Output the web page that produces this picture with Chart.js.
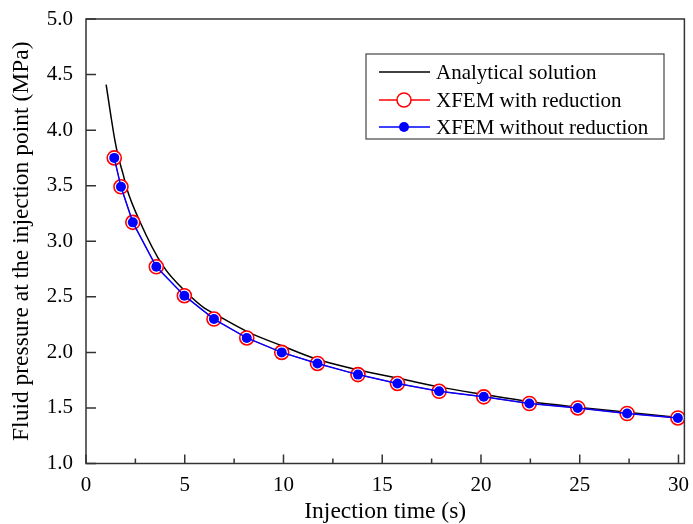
<!DOCTYPE html>
<html>
<head>
<meta charset="utf-8">
<script src="https://cdn.jsdelivr.net/npm/chart.js@4.4.1/dist/chart.umd.min.js"></script>
<style>
  html, body { margin: 0; padding: 0; background: #ffffff; }
  #wrap { position: relative; width: 693px; height: 524px; }
</style>
</head>
<body>
<div id="wrap"><canvas id="c" width="693" height="524"></canvas></div>
<script>
// ---- data ----
const xfemTime = [1.43, 1.77, 2.37, 3.56, 4.98, 6.48, 8.14, 9.91, 11.72, 13.77, 15.77, 17.88, 20.14, 22.45, 24.9, 27.4, 29.97];
const xfemWithReduction = [3.75, 3.49, 3.17, 2.77, 2.51, 2.30, 2.13, 2.00, 1.90, 1.80, 1.72, 1.65, 1.60, 1.54, 1.50, 1.45, 1.41];
const xfemWithoutReduction = [3.75, 3.49, 3.17, 2.77, 2.51, 2.30, 2.13, 2.00, 1.90, 1.80, 1.72, 1.65, 1.60, 1.54, 1.50, 1.45, 1.41];
const analyticalTime = [1.02, 1.25, 1.47, 1.635, 1.885, 2.056, 2.72, 3.89, 5.20, 5.98, 6.48, 8.24, 9.91, 11.66, 13.59, 16.0, 18.0, 20.0, 22.5, 25.0, 27.5, 30.0];
const analyticalPressure = [4.41, 4.14, 3.90, 3.76, 3.60, 3.48, 3.18, 2.78, 2.52, 2.40, 2.35, 2.18, 2.06, 1.94, 1.85, 1.76, 1.685, 1.625, 1.555, 1.505, 1.46, 1.415];
const xTickValues = [0, 2.5, 5, 7.5, 10, 12.5, 15, 17.5, 20, 22.5, 25, 27.5, 30];
const yTickValues = [1.0, 1.5, 2.0, 2.5, 3.0, 3.5, 4.0, 4.5, 5.0];
const seriesNames = ['Analytical solution', 'XFEM with reduction', 'XFEM without reduction'];
const xTitle = 'Injection time (s)';
const yTitle = 'Fluid pressure at the injection point (MPa)';

const toPts = (xs, ys) => xs.map((x, i) => ({ x: x, y: ys[i] }));
const FONT = "'Liberation Serif', 'Times New Roman', serif";
const FRAME = '#333333';

// frame, inward ticks and the inset legend
const decor = {
  id: 'decor',
  afterDatasetsDraw(chart) {
    const ctx = chart.ctx;
    const a = chart.chartArea;
    const xs = chart.scales.x, ys = chart.scales.y;
    ctx.save();
    ctx.strokeStyle = FRAME;
    ctx.lineWidth = 1.5;
    ctx.strokeRect(a.left, a.top, a.right - a.left, a.bottom - a.top);
    ctx.beginPath();
    xTickValues.forEach(v => {
      const px = xs.getPixelForValue(v);
      const len = (Math.abs(v % 5) < 1e-9) ? 9 : 5;
      ctx.moveTo(px, a.bottom);
      ctx.lineTo(px, a.bottom - len);
    });
    yTickValues.forEach(v => {
      const py = ys.getPixelForValue(v);
      ctx.moveTo(a.left, py);
      ctx.lineTo(a.left + 10, py);
    });
    ctx.stroke();

    // legend
    const bx = 366, by = 54, bw = 298, bh = 85;
    ctx.fillStyle = '#ffffff';
    ctx.fillRect(bx, by, bw, bh);
    ctx.strokeStyle = '#444444';
    ctx.lineWidth = 1.2;
    ctx.strokeRect(bx, by, bw, bh);
    const rows = [72, 100, 127];
    const colors = ['#000000', '#ff0000', '#0000ff'];
    ctx.font = '21px ' + FONT;
    ctx.textBaseline = 'middle';
    ctx.textAlign = 'left';
    rows.forEach((ry, i) => {
      ctx.strokeStyle = colors[i];
      ctx.lineWidth = 1.5;
      ctx.beginPath();
      ctx.moveTo(379, ry);
      ctx.lineTo(430, ry);
      ctx.stroke();
      if (i === 1) {
        ctx.fillStyle = '#ffffff';
        ctx.beginPath();
        ctx.arc(404, ry, 7, 0, Math.PI * 2);
        ctx.fill();
        ctx.stroke();
      } else if (i === 2) {
        ctx.fillStyle = '#0000ff';
        ctx.beginPath();
        ctx.arc(404, ry, 5, 0, Math.PI * 2);
        ctx.fill();
      }
      ctx.fillStyle = '#000000';
      ctx.fillText(seriesNames[i], 436, ry + 1);
    });
    ctx.restore();
  }
};

new Chart(document.getElementById('c'), {
  type: 'scatter',
  data: {
    datasets: [
      {
        label: seriesNames[2],
        data: toPts(xfemTime, xfemWithoutReduction),
        showLine: true,
        borderColor: '#0000ff',
        backgroundColor: '#0000ff',
        borderWidth: 1.5,
        pointRadius: 5,
        pointBorderWidth: 0,
        pointBackgroundColor: '#0000ff',
        order: 0
      },
      {
        label: seriesNames[1],
        data: toPts(xfemTime, xfemWithReduction),
        showLine: true,
        borderColor: '#ff0000',
        backgroundColor: '#ffffff',
        borderWidth: 1,
        pointRadius: 7,
        pointBorderWidth: 1.6,
        pointBorderColor: '#ff0000',
        pointBackgroundColor: '#ffffff',
        order: 1
      },
      {
        label: seriesNames[0],
        data: toPts(analyticalTime, analyticalPressure),
        showLine: true,
        borderColor: '#000000',
        borderWidth: 1.5,
        pointRadius: 0,
        cubicInterpolationMode: 'monotone',
        order: 2
      }
    ]
  },
  options: {
    responsive: false,
    animation: false,
    layout: { padding: { left: 0, right: 3, top: 19, bottom: 0 } },
    plugins: { legend: { display: false }, tooltip: { enabled: false } },
    scales: {
      x: {
        type: 'linear',
        min: 0,
        max: 30.3,
        afterBuildTicks: s => { s.ticks = xTickValues.filter(v => v % 5 === 0).map(v => ({ value: v })); },
        afterFit: s => { s.height = 60.5; },
        grid: { display: false },
        border: { display: false },
        ticks: {
          color: '#000000',
          font: { family: FONT, size: 21 },
          padding: 1,
          maxRotation: 0,
          callback: v => String(v)
        },
        title: {
          display: true,
          text: xTitle,
          color: '#000000',
          font: { family: FONT, size: 23.5 },
          padding: { top: 0, bottom: -2 }
        }
      },
      y: {
        type: 'linear',
        min: 1.0,
        max: 5.0,
        afterBuildTicks: s => { s.ticks = yTickValues.map(v => ({ value: v })); },
        afterFit: s => { s.width = 86; },
        grid: { display: false },
        border: { display: false },
        ticks: {
          color: '#000000',
          font: { family: FONT, size: 21 },
          padding: 5,
          callback: v => Number(v).toFixed(1)
        },
        title: {
          display: true,
          text: yTitle,
          color: '#000000',
          font: { family: FONT, size: 23.5 },
          padding: { top: 8, bottom: 0 }
        }
      }
    }
  },
  plugins: [decor]
});
</script>
</body>
</html>
